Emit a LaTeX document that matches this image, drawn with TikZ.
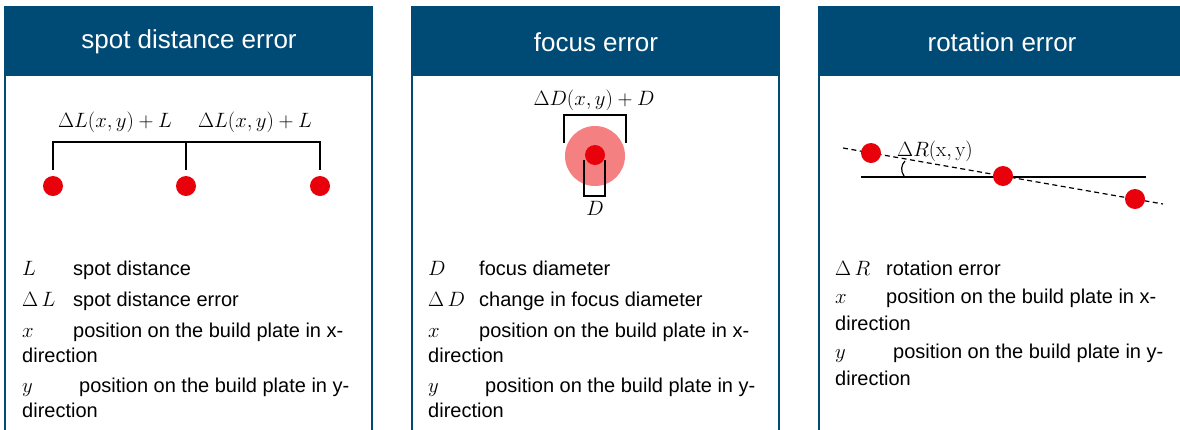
\documentclass[tikz,border=0pt]{standalone}
\usepackage[no-math]{fontspec}
\setmainfont{Liberation Sans}
\definecolor{hdr}{RGB}{0,74,118}
\definecolor{spotred}{RGB}{232,0,10}
\definecolor{halo}{RGB}{245,128,130}
\begin{document}
\begin{tikzpicture}[x=1pt,y=-1pt,
  title/.style={text=white,font=\fontsize{26}{30}\selectfont,inner sep=0pt},
  leg/.style={anchor=base west,font=\fontsize{20}{24}\selectfont,inner sep=0pt},
  lbl/.style={anchor=base,font=\fontsize{21.5}{26}\selectfont,inner sep=0pt},
  dot/.style={circle,fill=spotred,minimum size=20pt,inner sep=0pt},
  brk/.style={line width=1.2pt,black},
  panelbox/.style={draw=hdr,line width=1.2pt},
  hdrbox/.style={fill=hdr}]
\useasboundingbox (0,0) rectangle (1180,429);
\clip (0,0) rectangle (1180,429);
\fill[white] (0,0) rectangle (1180,429);

% panels
\foreach \l/\r in {5/372, 412/779, 819/1186}{
  \draw[panelbox] (\l,7) rectangle (\r,445);
  \fill[hdrbox] (\l,7) rectangle (\r,76);
}
\node[title] (t1) at (189,42) {spot distance error};
\node[title] (t2) at (596,42) {focus error};
\node[title] (t3) at (1002,42) {rotation error};

% ---------- panel 1 ----------
\node[lbl] (l1a) at (115,127) {$\Delta L(x,y)+L$};
\node[lbl] (l1b) at (255,127) {$\Delta L(x,y)+L$};
\node[dot] (d1a) at (53,186) {};
\node[dot] (d1b) at (186,186) {};
\node[dot] (d1c) at (320,186) {};
\coordinate (b1a) at (53,170);
\coordinate (b1b) at (186,170);
\coordinate (b1c) at (320,170);
\draw[brk] (b1a) -- (53,142) -- (320,142) -- (b1c);
\draw[brk] (186,142) -- (b1b);

\node[leg] (p1s1) at (22,275) {$L$};
\node[leg] (p1d1) at (73,275) {spot distance};
\node[leg] (p1s2) at (22,306) {$\Delta\,L$};
\node[leg] (p1d2) at (73,306) {spot distance error};
\node[leg] (p1s3) at (22,337) {$x$};
\node[leg] (p1d3) at (73,337) {position on the build plate in x-};
\node[leg] (p1d3b) at (22,362) {direction};
\node[leg] (p1s4) at (22,392) {$y$};
\node[leg] (p1d4) at (79,392) {position on the build plate in y-};
\node[leg] (p1d4b) at (22,417) {direction};

% ---------- panel 2 ----------
\node[lbl] (l2) at (594,105) {$\Delta D(x,y)+D$};
\node[circle,fill=halo,minimum size=60pt,inner sep=0pt] (halo) at (595,156) {};
\coordinate (b2a) at (564,143);
\coordinate (b2b) at (626,143);
\draw[brk] (b2a) -- (564,115) -- (626,115) -- (b2b);
\coordinate (s2a) at (584,160);
\coordinate (s2b) at (605,160);
\draw[brk] (s2a) -- (584,196) -- (605,196) -- (s2b);
\node[dot] (d2) at (595,155) {};
\node[lbl] (l2d) at (595,215) {$D$};

\node[leg] (p2s1) at (428,275) {$D$};
\node[leg] (p2d1) at (479,275) {focus diameter};
\node[leg] (p2s2) at (428,306) {$\Delta\,D$};
\node[leg] (p2d2) at (479,306) {change in focus diameter};
\node[leg] (p2s3) at (428,337) {$x$};
\node[leg] (p2d3) at (479,337) {position on the build plate in x-};
\node[leg] (p2d3b) at (428,362) {direction};
\node[leg] (p2s4) at (428,392) {$y$};
\node[leg] (p2d4) at (485,392) {position on the build plate in y-};
\node[leg] (p2d4b) at (428,417) {direction};

% ---------- panel 3 ----------
\coordinate (h3a) at (861,177);
\coordinate (h3b) at (1146,177);
\draw[brk] (h3a) -- (h3b);
\coordinate (r3a) at (843,148);
\coordinate (r3b) at (1163,204);
\draw[brk,dash pattern=on 5pt off 3.5pt] (r3a) -- (r3b);
\draw[brk] (904,176) .. controls (900.5,171) and (901,165) .. (905,161);
\node[dot] (d3a) at (871,153) {};
\node[dot] (d3b) at (1003,176) {};
\node[dot] (d3c) at (1135,199) {};
\node[lbl,font=\fontsize{20}{24}\selectfont] (l3) at (935,156) {$\Delta R(\mathrm{x},\mathrm{y})$};

\node[leg] (p3s1) at (835,275) {$\Delta\,R$};
\node[leg] (p3d1) at (886,275) {rotation error};
\node[leg] (p3s2) at (835,303) {$x$};
\node[leg] (p3d2) at (886,303) {position on the build plate in x-};
\node[leg] (p3d2b) at (835,330) {direction};
\node[leg] (p3s3) at (835,358) {$y$};
\node[leg] (p3d3) at (893,358) {position on the build plate in y-};
\node[leg] (p3d3b) at (835,385) {direction};
\end{tikzpicture}
\end{document}
